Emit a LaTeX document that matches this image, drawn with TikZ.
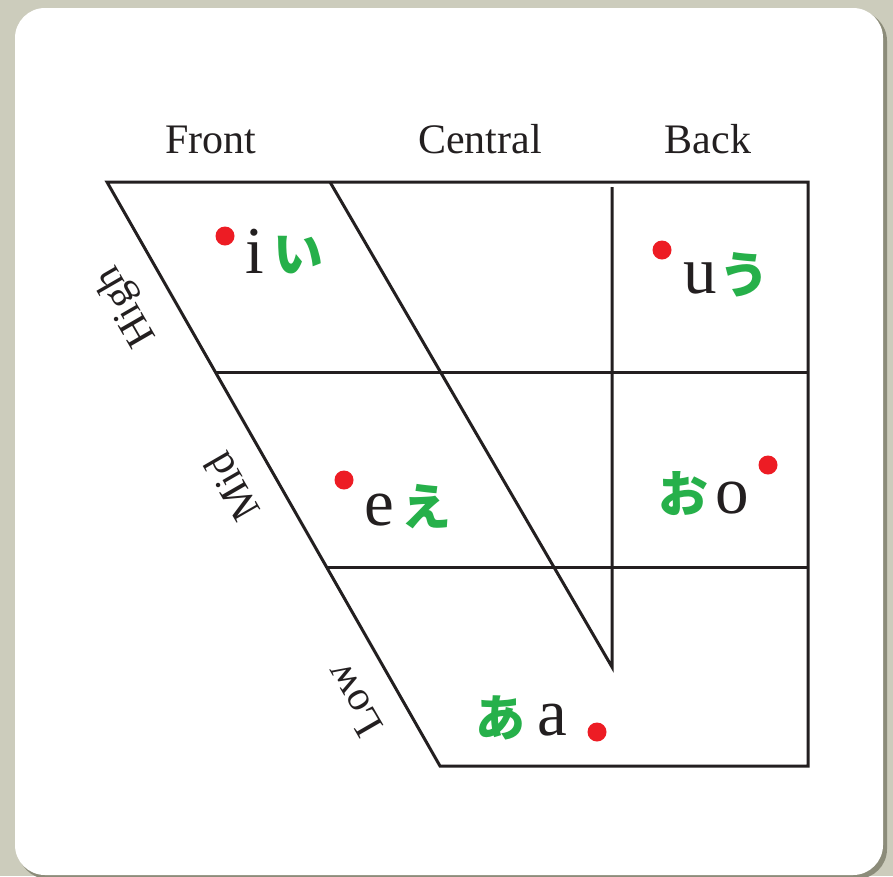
\documentclass[tikz,border=0pt]{standalone}
\usepackage{fontspec}
\setmainfont{Liberation Serif}
\newfontfamily\kanafont{Noto Sans CJK JP}
\definecolor{kanagreen}{RGB}{38,176,74}
\definecolor{dotred}{RGB}{237,28,36}
\definecolor{inkblack}{RGB}{35,31,32}
\definecolor{paper}{RGB}{204,204,188}
\definecolor{paperedge}{RGB}{140,140,122}

\begin{document}
\begin{tikzpicture}[x=1pt, y=-1pt,
    chart/.style={line width=3pt, line join=miter, draw=inkblack},
    colhead/.style={anchor=base, inner sep=0pt, text=inkblack,
                    font=\fontsize{42}{50}\selectfont},
    rowhead/.style={anchor=center, rotate=120, inner sep=0pt, text=inkblack,
                    font=\fontsize{42}{50}\selectfont},
    vowel/.style={anchor=base, inner sep=0pt, text=inkblack,
                  font=\fontsize{67}{80}\selectfont},
    kanachar/.style={anchor=center, inner sep=0pt, text=kanagreen,
                     font=\kanafont\bfseries\fontsize{50}{60}\selectfont},
    reddot/.style={circle, fill=dotred, minimum size=19pt, inner sep=0pt}]
    \useasboundingbox (0,0) rectangle (893,876);

    % card
    \fill[paper] (0,0) rectangle (893,876);
    \fill[paperedge, rounded corners=30pt] (18,11) rectangle (887,879);
    \fill[white, rounded corners=30pt] (15,8) rectangle (883,875);

    % corners of the chart
    \coordinate (topLeft)   at (107,182);
    \coordinate (topRight)  at (808,182);
    \coordinate (botRight)  at (808,766);
    \coordinate (botLeft)   at (440,766);
    \coordinate (highLeft)  at (215.3,372);
    \coordinate (highRight) at (808,372);
    \coordinate (midLeft)   at (326.5,567);
    \coordinate (midRight)  at (808,567);
    \coordinate (innerTop)  at (330,182);
    \coordinate (innerBot)  at (612,667);
    \coordinate (backTop)   at (612,187);

    \draw[chart] (topLeft) -- (topRight) -- (botRight) -- (botLeft) -- cycle;
    \draw[chart] (highLeft) -- (highRight);
    \draw[chart] (midLeft) -- (midRight);
    \draw[chart] (innerTop) -- (innerBot) -- (backTop);

    % column and row headings
    \node[colhead] (front)   at (211,153) {Front};
    \node[colhead] (central) at (480,153) {Central};
    \node[colhead] (back)    at (708,153) {Back};
    \node[rowhead] (high) at (127,306) {High};
    \node[rowhead] (mid)  at (232,487) {Mid};
    \node[rowhead] (low)  at (354,700) {Low};

    % vowels
    \node[reddot] (dotI) at (225,236) {};
    \node[vowel] (vowI) at (255,273) {i};
    \node[kanachar] (kanaI) at (298,255) {い};

    \node[reddot] (dotU) at (662,250) {};
    \node[vowel] (vowU) at (700,293) {u};
    \node[kanachar] (kanaU) at (744,275) {う};

    \node[reddot] (dotE) at (344,480) {};
    \node[vowel] (vowE) at (379,525) {e};
    \node[kanachar] (kanaE) at (426,507) {え};

    \node[reddot] (dotO) at (768,465) {};
    \node[vowel] (vowO) at (732,513) {o};
    \node[kanachar] (kanaO) at (683,494) {お};

    \node[reddot] (dotA) at (597,732) {};
    \node[vowel] (vowA) at (552,735) {a};
    \node[kanachar] (kanaA) at (500,718) {あ};
\end{tikzpicture}
\end{document}
